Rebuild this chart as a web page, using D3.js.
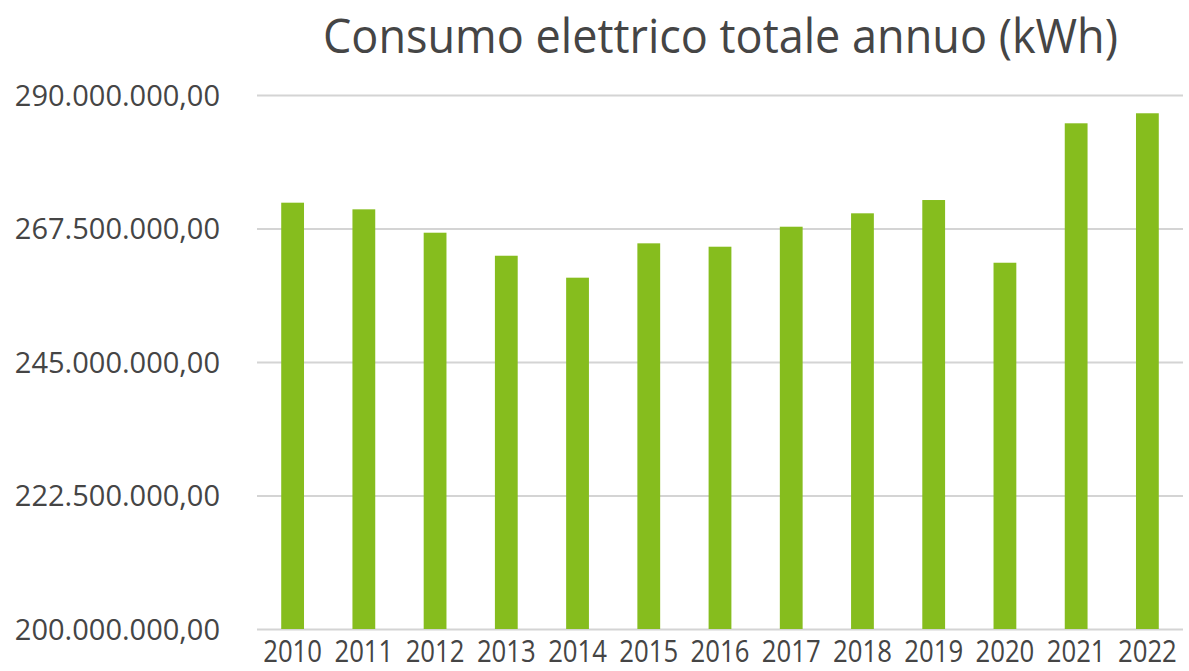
<!DOCTYPE html>
<html>
<head>
<meta charset="utf-8">
<script src="https://cdn.jsdelivr.net/npm/d3@7"></script>
<style>
  html, body { margin: 0; padding: 0; background: #ffffff; }
  svg { display: block; }
  text { font-family: "Open Sans", "Noto Sans", sans-serif; fill: #3f3f3f; }
</style>
</head>
<body>
<svg id="chart" width="1189" height="671"></svg>
<script>
// Annual electricity consumption (kWh)
const years = ["2010", "2011", "2012", "2013", "2014", "2015", "2016",
               "2017", "2018", "2019", "2020", "2021", "2022"];
const consumption = [271850000, 270730000, 266790000, 262910000, 259210000,
                     265000000, 264430000, 267800000, 270060000, 272300000,
                     261730000, 285230000, 286920000];
const yTicks = [200000000, 222500000, 245000000, 267500000, 290000000];
const titleText = "Consumo elettrico totale annuo (kWh)";

const svg = d3.select("#chart");
const margin = { top: 95, right: 6, bottom: 42, left: 257 };
const width = 1189, height = 671;

const x = d3.scaleBand()
  .domain(years)
  .range([margin.left, width - margin.right])
  .paddingInner(0.68)
  .paddingOuter(0.34);

const y = d3.scaleLinear()
  .domain([200000000, 290000000])
  .range([height - margin.bottom, margin.top]);

// Italian number format: dot thousands, comma decimals
const itLocale = d3.formatLocale({ decimal: ",", thousands: ".", grouping: [3], currency: ["€", ""] });
const fmt = itLocale.format(",.2f");

// Gridlines + y labels
const yAxis = d3.axisLeft(y)
  .tickValues(yTicks)
  .tickSize(-(width - margin.right - margin.left))
  .tickPadding(37)
  .tickFormat(fmt);

const gy = svg.append("g")
  .attr("transform", `translate(${margin.left},0)`)
  .call(yAxis);
gy.select(".domain").remove();
gy.selectAll(".tick line").attr("stroke", "#d4d4d4").attr("stroke-width", 2);
gy.selectAll(".tick text")
  .attr("font-size", 29)
  .attr("dy", "0.35em")
  .style("fill", "#454545");

// Bars
svg.append("g").selectAll("rect")
  .data(years.map((yr, i) => ({ yr, v: consumption[i] })))
  .join("rect")
  .attr("x", d => x(d.yr))
  .attr("width", x.bandwidth())
  .attr("y", d => y(d.v))
  .attr("height", d => y(200000000) - y(d.v))
  .attr("fill", "#86bd1e");

// Year labels (narrow, tall digits)
const xAxis = d3.axisBottom(x).tickSize(0);
const gx = svg.append("g")
  .attr("transform", `translate(0,${height - margin.bottom})`)
  .call(xAxis);
gx.select(".domain").remove();
gx.selectAll(".tick text")
  .attr("font-size", 31)
  .attr("y", 33)
  .attr("dy", 0)
  .attr("transform", "scale(0.83,1)")
  .style("fill", "#454545");

// Title
svg.append("text")
  .attr("x", 323)
  .attr("y", 53)
  .attr("font-size", 48)
  .attr("textLength", 795)
  .attr("lengthAdjust", "spacingAndGlyphs")
  .style("fill", "#454545")
  .text(titleText);
</script>
</body>
</html>
